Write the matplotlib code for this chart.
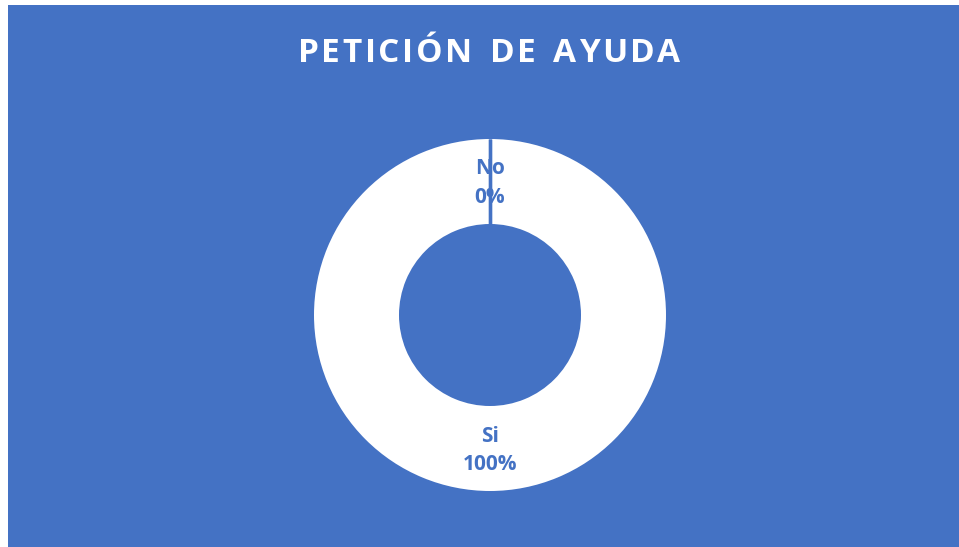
import matplotlib
matplotlib.use("Agg")
import matplotlib.pyplot as plt
import numpy as np
from matplotlib.patches import Rectangle

# data
labels = ["No", "Si"]
values = [0, 100]
title = "PETICIÓN DE AYUDA"

blue = "#4472C4"
W, H = 959, 547

fig = plt.figure(figsize=(W / 100, H / 100), dpi=100)
fig.patch.set_facecolor("white")
fig.patches.append(Rectangle((8 / W, 0), 1 - 8 / W, 1 - 5 / H, transform=fig.transFigure,
                             facecolor=blue, edgecolor="none", zorder=-5))

# donut
cx, cy, r = 490, 315, 176
inner = 91 / 176
ax = fig.add_axes([(cx - r) / W, (H - cy - r) / H, 2 * r / W, 2 * r / H])
ax.set_axis_off()
wedges, _ = ax.pie(values, startangle=90, counterclock=False, radius=1,
                   colors=[blue, "white"],
                   wedgeprops=dict(width=1 - inner, edgecolor="none", linewidth=0))
# slice separators (blue borders between slices)
total = sum(values)
ang = 90.0
for v in values:
    a = np.deg2rad(ang)
    ax.plot([inner * np.cos(a), np.cos(a)], [inner * np.sin(a), np.sin(a)],
            color=blue, lw=2.4, solid_capstyle="butt", zorder=3)
    ang -= 360.0 * v / total
ax.set_xlim(-1, 1)
ax.set_ylim(-1, 1)

label_y = [0.75, -0.77]
for lab, v, y in zip(labels, values, label_y):
    ax.text(0, y, f"{lab}\n{v / total:.0%}", ha="center", va="center", color=blue,
            fontsize=15, fontweight="bold", family=["Open Sans", "DejaVu Sans"],
            linespacing=1.45, zorder=4)

# title with letter spacing
renderer = fig.canvas.get_renderer()
fs = 24
spacing = 2.6  # px between letters
widths = []
for ch in title:
    t = fig.text(0, 0, ch if ch != " " else "n", fontsize=fs, fontweight="bold",
                 family=["Open Sans", "DejaVu Sans"])
    bb = t.get_window_extent(renderer)
    widths.append(bb.width * (0.55 if ch == " " else 1))
    t.remove()
total_w = sum(widths) + spacing * (len(title) - 1)
x = 489 - total_w / 2
for ch, w in zip(title, widths):
    if ch != " ":
        fig.text(x / W, 1 - 53 / H, ch, fontsize=fs, fontweight="bold", color="white",
                 family=["Open Sans", "DejaVu Sans"], ha="left", va="center")
    x += w + spacing

fig.savefig("out.png", dpi=100)
